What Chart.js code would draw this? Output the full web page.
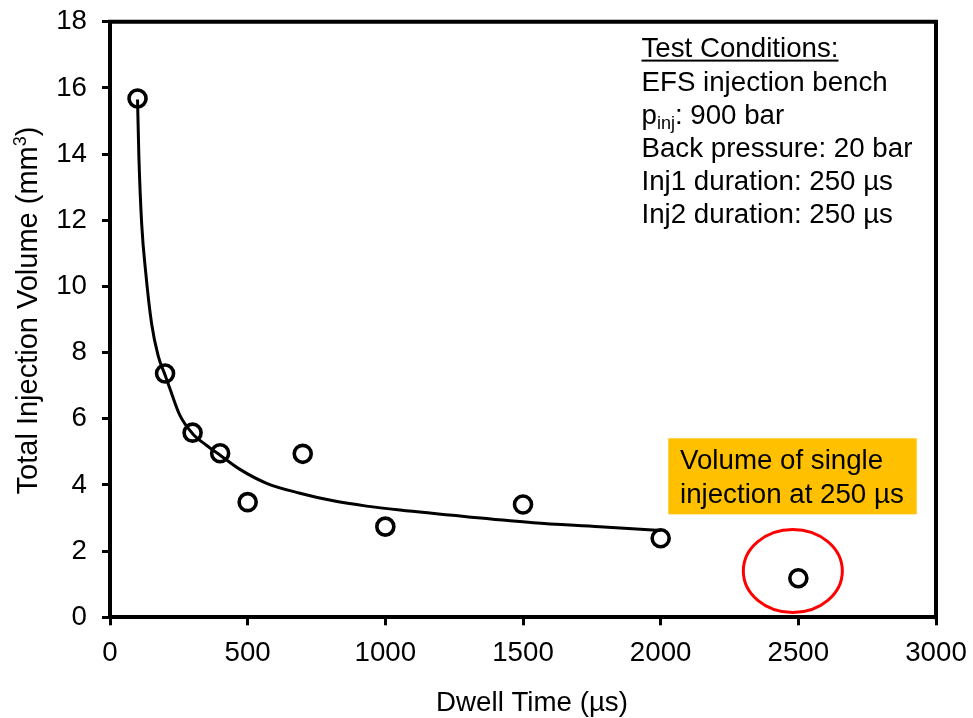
<!DOCTYPE html>
<html>
<head>
<meta charset="utf-8">
<script src="https://cdn.jsdelivr.net/npm/chart.js@4.4.0/dist/chart.umd.min.js"></script>
<style>
  html, body { margin: 0; padding: 0; background: #fff; }
  #wrap { width: 973px; height: 718px; position: relative; }
</style>
</head>
<body>
<div id="wrap"><canvas id="c" width="973" height="718"></canvas></div>
<script>
// ---- data ----
const dwellTimes = [100, 200, 300, 400, 500, 700, 1000, 1500, 2000];
const totalVolumes = [15.68, 7.37, 5.58, 4.96, 3.48, 4.94, 2.74, 3.41, 2.39];
const singleInjectionTime = [2500];
const singleInjectionVolume = [1.18];
const trendX = [100, 105, 115, 130, 151, 175, 200, 218, 254, 300, 350, 400, 472, 569, 690, 811, 932, 1053, 1295, 1537, 1779, 2000];
const trendY = [15.65, 13.9, 11.9, 10.4, 8.88, 7.9, 7.32, 6.9, 6.1, 5.55, 5.2, 4.9, 4.47, 4.05, 3.75, 3.52, 3.36, 3.24, 3.04, 2.86, 2.74, 2.62];
const xTicks = [0, 500, 1000, 1500, 2000, 2500, 3000];
const yTicks = [0, 2, 4, 6, 8, 10, 12, 14, 16, 18];
const xTitle = 'Dwell Time (µs)';
const yTitleMain = 'Total Injection Volume (mm';
const yTitleSup = '3';
const yTitleEnd = ')';
const conditionsTitle = 'Test Conditions:';
const conditionsLines = ['EFS injection bench', 'p|inj|: 900 bar', 'Back pressure: 20 bar', 'Inj1 duration: 250 µs', 'Inj2 duration: 250 µs'];
const calloutLines = ['Volume of single', 'injection at 250 µs'];
const highlightCenter = [2480, 1.4]; // data coords of the red ellipse centre

const FONT = '"Liberation Sans", Arial, sans-serif';
const FS = 27.7;
Chart.defaults.font.family = FONT;
Chart.defaults.color = '#000';

const toXY = (xs, ys) => xs.map((x, i) => ({ x: x, y: ys[i] }));

const framePlugin = {
  id: 'frame',
  afterDraw(chart) {
    const { ctx, chartArea: a, scales } = chart;
    ctx.save();
    // top and right frame
    ctx.strokeStyle = '#000';
    ctx.lineWidth = 4;
    ctx.lineCap = 'square';
    ctx.beginPath();
    ctx.moveTo(a.left, a.top);
    ctx.lineTo(a.right, a.top);
    ctx.lineTo(a.right, a.bottom);
    ctx.stroke();

    // red ellipse around single-injection point
    const cx = scales.x.getPixelForValue(highlightCenter[0]);
    const cy = scales.y.getPixelForValue(highlightCenter[1]);
    ctx.strokeStyle = '#ff0000';
    ctx.lineWidth = 3;
    ctx.beginPath();
    ctx.ellipse(cx, cy, 49.5, 41.5, 0, 0, Math.PI * 2);
    ctx.stroke();

    ctx.fillStyle = '#000';
    ctx.textBaseline = 'alphabetic';
    ctx.textAlign = 'left';

    // axis titles
    ctx.font = FS + 'px ' + FONT;
    ctx.textAlign = 'center';
    ctx.fillText(xTitle, 532, 711);
    ctx.save();
    ctx.translate(36.5, 310.5);
    ctx.rotate(-Math.PI / 2);
    ctx.font = '29px ' + FONT;
    const w1 = ctx.measureText(yTitleMain).width;
    ctx.font = '18px ' + FONT;
    const w2 = ctx.measureText(yTitleSup).width;
    ctx.font = '29px ' + FONT;
    const w3 = ctx.measureText(yTitleEnd).width;
    let sx = -(w1 + w2 + w3) / 2;
    ctx.textAlign = 'left';
    ctx.fillText(yTitleMain, sx, 0);
    ctx.font = '18px ' + FONT;
    ctx.fillText(yTitleSup, sx + w1, -11);
    ctx.font = '29px ' + FONT;
    ctx.fillText(yTitleEnd, sx + w1 + w2, 0);
    ctx.restore();

    // Test conditions text
    ctx.textAlign = 'left';
    const tx = 641.5;
    const ty = 57.3;
    ctx.font = FS + 'px ' + FONT;
    ctx.fillText(conditionsTitle, tx, ty);
    const w = ctx.measureText(conditionsTitle).width;
    ctx.fillRect(tx, ty + 2.3, w, 2);
    const lh = 33.2;
    conditionsLines.forEach((line, i) => {
      const y = ty + lh * (i + 1);
      const parts = line.split('|');
      let x = tx;
      parts.forEach((p, j) => {
        if (j % 2 === 1) {
          ctx.font = '18px ' + FONT;
          ctx.fillText(p, x, y + 5);
        } else {
          ctx.font = FS + 'px ' + FONT;
          ctx.fillText(p, x, y);
        }
        x += ctx.measureText(p).width;
      });
    });

    // orange callout
    ctx.fillStyle = '#ffc000';
    ctx.fillRect(668.3, 438.3, 248.4, 76);
    ctx.fillStyle = '#000';
    ctx.font = FS + 'px ' + FONT;
    calloutLines.forEach((line, i) => {
      ctx.fillText(line, 680, 469.3 + 34 * i);
    });
    ctx.restore();
  }
};

new Chart(document.getElementById('c'), {
  type: 'scatter',
  data: {
    datasets: [
      {
        label: 'trend',
        data: toXY(trendX, trendY),
        showLine: true,
        borderColor: '#000',
        borderWidth: 3,
        pointRadius: 0,
        cubicInterpolationMode: 'monotone',
        fill: false,
        order: 1
      },
      {
        label: 'double injection',
        data: toXY(dwellTimes, totalVolumes),
        pointStyle: 'circle',
        pointRadius: 8.5,
        pointBorderWidth: 3.6,
        pointBorderColor: '#000',
        pointBackgroundColor: 'rgba(255,255,255,0)',
        showLine: false,
        order: 2
      },
      {
        label: 'single injection',
        data: toXY(singleInjectionTime, singleInjectionVolume),
        pointStyle: 'circle',
        pointRadius: 8.5,
        pointBorderWidth: 3.6,
        pointBorderColor: '#000',
        pointBackgroundColor: 'rgba(255,255,255,0)',
        showLine: false,
        order: 3
      }
    ]
  },
  options: {
    responsive: false,
    animation: false,
    devicePixelRatio: 1,
    layout: { padding: { top: 21.7, right: 37, left: 0, bottom: 0 } },
    plugins: { legend: { display: false }, tooltip: { enabled: false } },
    scales: {
      x: {
        type: 'linear',
        min: 0, max: 3000,
        afterBuildTicks: (s) => { s.ticks = xTicks.map(v => ({ value: v })); },
        afterFit: (s) => { s.height = 100.7; s.paddingLeft = 0; s.paddingRight = 0; },
        ticks: { font: { size: FS }, padding: 11, color: '#000', maxRotation: 0, callback: (v) => String(v) },
        grid: { display: true, drawOnChartArea: false, drawTicks: true, tickLength: 8, color: '#000', lineWidth: 3 },
        border: { display: true, color: '#000', width: 4 }
      },
      y: {
        type: 'linear',
        min: 0, max: 18,
        afterBuildTicks: (s) => { s.ticks = yTicks.map(v => ({ value: v })); },
        afterFit: (s) => { s.width = 110; s.paddingTop = 0; s.paddingBottom = 0; },
        ticks: { font: { size: FS }, padding: 15, color: '#000', callback: (v) => String(v) },
        grid: { display: true, drawOnChartArea: false, drawTicks: true, tickLength: 8, color: '#000', lineWidth: 3 },
        border: { display: true, color: '#000', width: 4 }
      }
    }
  },
  plugins: [framePlugin]
});
</script>
</body>
</html>
